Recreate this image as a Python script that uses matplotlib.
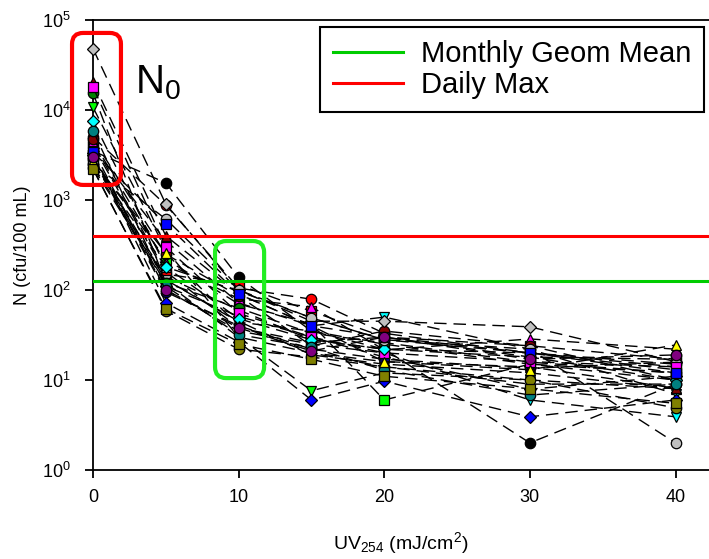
import numpy as np
import matplotlib
matplotlib.use("Agg")
import matplotlib.pyplot as plt
from matplotlib.patches import FancyBboxPatch

plt.rcParams['font.family'] = ['Liberation Sans', 'DejaVu Sans']
plt.rcParams['mathtext.fontset'] = 'custom'
plt.rcParams['mathtext.rm'] = 'Liberation Sans'
plt.rcParams['mathtext.it'] = 'Liberation Sans:italic'

# UV dose (mJ/cm2)
doses = [0, 5, 10, 15, 20, 30, 40]

# colour / marker of each sample series (SigmaPlot style)
series_colors = [
    '#000000', '#FF0000', '#00FF00', '#FFFF00', '#0000FF', '#00FFFF', '#00FFFF',
    '#C0C0C0', '#000080', '#800080', '#FF0000', '#00FF00', '#0000FF', '#FF00FF',
    '#C0C0C0', '#C0C0C0', '#FFFF00', '#808000', '#800000', '#008000', '#C0C0C0',
    '#800000', '#FF00FF', '#00FFFF', '#008080', '#C0C0C0', '#0000FF', '#FFFF00',
    '#808000', '#800080',
]
series_markers = [
    'o', 'o', 's', 'D', '^', 'v', 'v',
    's', 'o', 's', 's', 'v', 'D', '^',
    'v', '^', 'v', 'o', 'o', 'o', 'D',
    '^', 's', 'D', 'o', 'o', 's', '^',
    's', 'o',
]

# N (cfu/100 mL) at each dose, one row per sample
counts = [
    [3500, 1550, 138, 35, 22, 2.0, 9],
    [5000, 880, 105, 79, 33, 20, 15],
    [2800, 220, 70, 42, 6.0, 15, 12],
    [3200, 110, 51, 30, 18, 7.9, 11],
    [3030, 130, 45, 19, 15, 12, 8],
    [3900, 350, 72, 40, 50, 22, 7],
    [3600, 100, 35, 25, 20, 6.0, 3.9],
    [2600, 140, 60, 28, 22, 20, 13],
    [2870, 95, 40, 22, 17, 13.5, 15.8],
    [4300, 160, 38, 26, 30, 18, 17],
    [4000, 150, 114, 58, 30, 24, 17],
    [10700, 280, 30, 7.6, 12, 10, 8],
    [3300, 72, 26.5, 6.0, 9.7, 3.9, 6],
    [4500, 200, 80, 65, 21.6, 28.6, 22],
    [2400, 130, 44, 35, 25, 15, 10],
    [2600, 180, 97, 49, 28, 20, 14],
    [2300, 120, 30, 20, 14, 9, 9],
    [2250, 59, 22, 18, 14, 10, 4.9],
    [4790, 250, 86, 24, 35, 24, 10],
    [15400, 120, 63, 33, 26, 15.8, 12],
    [48000, 900, 100, 45, 45, 39, 16],
    [20500, 400, 90, 40, 16, 14, 8.1],
    [18000, 300, 55, 30, 20, 16, 14],
    [7600, 180, 48, 28, 22, 18, 10],
    [5900, 110, 32, 23, 12.9, 6.8, 9],
    [2500, 615, 100, 49, 28, 22, 2.0],
    [3400, 540, 90, 40, 30, 20, 12],
    [2700, 257, 40, 20, 16, 13, 24.5],
    [2200, 62, 25, 17, 11, 8, 5.5],
    [3000, 100, 38, 21, 30, 17, 19],
]

geom_mean_limit = 126
daily_max_limit = 400

fig = plt.figure(figsize=(7.09, 5.59), dpi=100)
ax = fig.add_axes([93/709, 89/559, 616/709, 450/559])

for vals, c, m in zip(counts, series_colors, series_markers):
    ax.plot(doses, vals, color='black', lw=1.0, dashes=(9, 5),
            marker=m, markersize=7.5 if m != 'D' else 6.5,
            markerfacecolor=c, markeredgecolor='black', markeredgewidth=0.9,
            clip_on=False, zorder=3)

ax.axhline(geom_mean_limit, color='#00CC00', lw=2.2, label='Monthly Geom Mean', zorder=4)
ax.axhline(daily_max_limit, color='#FF0000', lw=2.2, label='Daily Max', zorder=4)

ax.set_yscale('log')
ax.set_ylim(1, 1e5)
ax.set_xlim(0, 42.3)
ax.set_xticks([0, 10, 20, 30, 40])
ax.minorticks_off()
ax.spines['right'].set_visible(False)
for s in ['left', 'bottom', 'top']:
    ax.spines[s].set_linewidth(1.3)
ax.tick_params(direction='out', length=6, width=1.3, labelsize=13)
ax.tick_params(axis='y', pad=10)
ax.tick_params(axis='x', pad=8)

ax.set_xlabel('UV$_{254}$ (mJ/cm$^2$)', fontsize=14, labelpad=17)
ax.set_ylabel('N (cfu/100 mL)', fontsize=13, labelpad=8)

leg = ax.legend(loc='upper left', bbox_to_anchor=(0.369, 0.984), borderaxespad=0,
                fancybox=False, edgecolor='black', framealpha=1, fontsize=21,
                handlelength=2.4, handletextpad=0.6, borderpad=0.45, labelspacing=0.1)
leg.get_frame().set_linewidth(1.5)

ax.text(2.9, 2.0e4, 'N$_0$', fontsize=29, ha='left', va='center')

# highlight boxes, placed in data coords then rounded in axes coords
to_axes = ax.transData + ax.transAxes.inverted()
aspect = 616 / 450
for (x0, x1, y0, y1, col) in [(-1.44, 1.92, 1470, 71800, '#FF0000'),
                              (8.38, 11.75, 10.5, 350, '#22EE22')]:
    (ax0, ay0), (ax1, ay1) = to_axes.transform([(x0, y0), (x1, y1)])
    box = FancyBboxPatch((ax0, ay0), ax1 - ax0, ay1 - ay0,
                         boxstyle='round,pad=0,rounding_size=0.018',
                         mutation_aspect=aspect, transform=ax.transAxes,
                         fill=False, edgecolor=col, lw=3, clip_on=False, zorder=5)
    ax.add_patch(box)

fig.savefig('out.png', dpi=100)
